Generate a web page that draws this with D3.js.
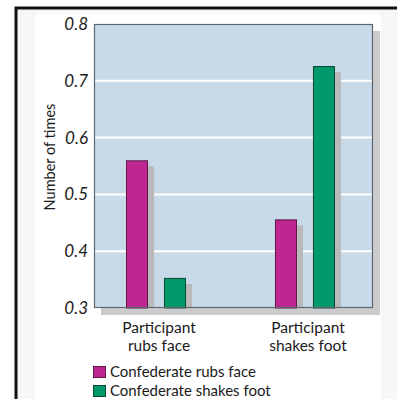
<!DOCTYPE html>
<html>
<head>
<meta charset="utf-8">
<script src="https://cdn.jsdelivr.net/npm/d3@7"></script>
<style>
  html, body { margin: 0; padding: 0; background: #fff; }
  svg { display: block; }
  text { font-family: Lato, "Open Sans", sans-serif; fill: #1a1a1a; }
</style>
</head>
<body>
<svg id="chart" width="397" height="399"></svg>
<script>
// Behaviour categories along the x axis
const categories = ["Participant\nrubs face", "Participant\nshakes foot"];
// Series: what the confederate did
const seriesNames = ["Confederate rubs face", "Confederate shakes foot"];
const rubsFaceValues = [0.56, 0.456];
const shakesFootValues = [0.353, 0.726];
const yTicks = [0.3, 0.4, 0.5, 0.6, 0.7, 0.8];
const seriesColors = ["#c02690", "#00996a"];
const seriesStrokes = ["#5e1848", "#0c4a33"];

const svg = d3.select("#chart");
const W = 397, H = 399;

// page panel and outer frame
svg.append("rect").attr("x", 0).attr("y", 0).attr("width", W).attr("height", H).attr("fill", "#ffffff");
svg.append("rect").attr("x", 17).attr("y", 9).attr("width", W - 17).attr("height", H - 9).attr("fill", "#f7f7f7");
svg.append("rect").attr("x", 35).attr("y", 14).attr("width", 346).attr("height", H - 14).attr("fill", "#ffffff");
svg.append("path").attr("d", `M16,${H} L16,8 L${W},8`).attr("fill", "none").attr("stroke", "#111").attr("stroke-width", 3);

const plot = { left: 94, top: 24, right: 373, bottom: 308 };

const y = d3.scaleLinear().domain([0.3, 0.8]).range([plot.bottom, plot.top]);
const x0 = d3.scaleBand().domain(d3.range(categories.length))
  .range([plot.left, plot.right])
  .paddingInner(0.597).paddingOuter(0.235).align(0.457);
const x1 = d3.scaleBand().domain(d3.range(seriesNames.length))
  .range([0, x0.bandwidth()]).paddingInner(0.42);

// plot drop shadow
svg.append("rect")
  .attr("x", plot.left + 7).attr("y", plot.top + 7)
  .attr("width", plot.right - plot.left).attr("height", plot.bottom - plot.top)
  .attr("fill", "#cbcbcb");
// plot background
svg.append("rect")
  .attr("x", plot.left).attr("y", plot.top)
  .attr("width", plot.right - plot.left).attr("height", plot.bottom - plot.top)
  .attr("fill", "#c8dae9");

// gridlines
svg.append("g").selectAll("line")
  .data(yTicks.filter(t => t > 0.3 && t < 0.8))
  .join("line")
  .attr("x1", plot.left).attr("x2", plot.right)
  .attr("y1", d => y(d)).attr("y2", d => y(d))
  .attr("stroke", "#ffffff").attr("stroke-width", 2);

const values = categories.map((c, i) => [rubsFaceValues[i], shakesFootValues[i]]);

const groups = svg.append("g").selectAll("g")
  .data(values)
  .join("g")
  .attr("transform", (d, i) => `translate(${x0(i)},0)`);

// bar shadows
groups.selectAll("rect.shadow")
  .data(d => d)
  .join("rect")
  .attr("class", "shadow")
  .attr("x", (d, j) => x1(j) + 6)
  .attr("y", d => y(d) + 6)
  .attr("width", x1.bandwidth())
  .attr("height", d => plot.bottom - y(d) - 6)
  .attr("fill", "#b9b9b9");

// bars
groups.selectAll("rect.bar")
  .data(d => d)
  .join("rect")
  .attr("class", "bar")
  .attr("x", (d, j) => x1(j) + 0.5)
  .attr("y", d => y(d) + 0.5)
  .attr("width", x1.bandwidth() - 1)
  .attr("height", d => plot.bottom - y(d) - 0.5)
  .attr("fill", (d, j) => seriesColors[j])
  .attr("stroke", (d, j) => seriesStrokes[j])
  .attr("stroke-width", 1);

// plot border
svg.append("rect")
  .attr("x", plot.left + 0.5).attr("y", plot.top + 0.5)
  .attr("width", plot.right - plot.left - 1).attr("height", plot.bottom - plot.top - 1)
  .attr("fill", "none").attr("stroke", "#5f6870").attr("stroke-width", 1.2);

// y axis tick labels
const yAxis = d3.axisLeft(y).tickValues(yTicks).tickSize(0).tickPadding(6).tickFormat(d3.format(".1f"));
const ya = svg.append("g").attr("transform", `translate(${plot.left},0)`).call(yAxis);
ya.select(".domain").remove();
ya.selectAll("text")
  .attr("font-family", "'Open Sans', sans-serif")
  .attr("font-style", "italic")
  .attr("font-size", 17)
  .attr("fill", "#222");

// y axis title
svg.append("text")
  .attr("transform", "translate(55,157) rotate(-90)")
  .attr("text-anchor", "middle")
  .attr("font-size", 14.5)
  .text("Number of times");

// category labels
const catLabels = svg.append("g").selectAll("text")
  .data(categories)
  .join("text")
  .attr("text-anchor", "middle")
  .attr("font-size", 15.5)
  .attr("x", (d, i) => x0(i) + x0.bandwidth() / 2 + 3)
  .attr("y", 333);
catLabels.selectAll("tspan")
  .data(d => d.split("\n"))
  .join("tspan")
  .attr("x", function () { return d3.select(this.parentNode).attr("x"); })
  .attr("dy", (d, k) => k === 0 ? 0 : 18)
  .text(d => d);

// legend
const legend = svg.append("g").selectAll("g")
  .data(seriesNames)
  .join("g")
  .attr("transform", (d, i) => `translate(93,${366 + i * 19})`);
legend.append("rect")
  .attr("x", 0.5).attr("y", 0.5).attr("width", 12).attr("height", 11)
  .attr("fill", (d, i) => seriesColors[i])
  .attr("stroke", (d, i) => seriesStrokes[i]).attr("stroke-width", 1);
legend.append("text")
  .attr("x", 17).attr("y", 11)
  .attr("font-size", 15)
  .text(d => d);
</script>
</body>
</html>
